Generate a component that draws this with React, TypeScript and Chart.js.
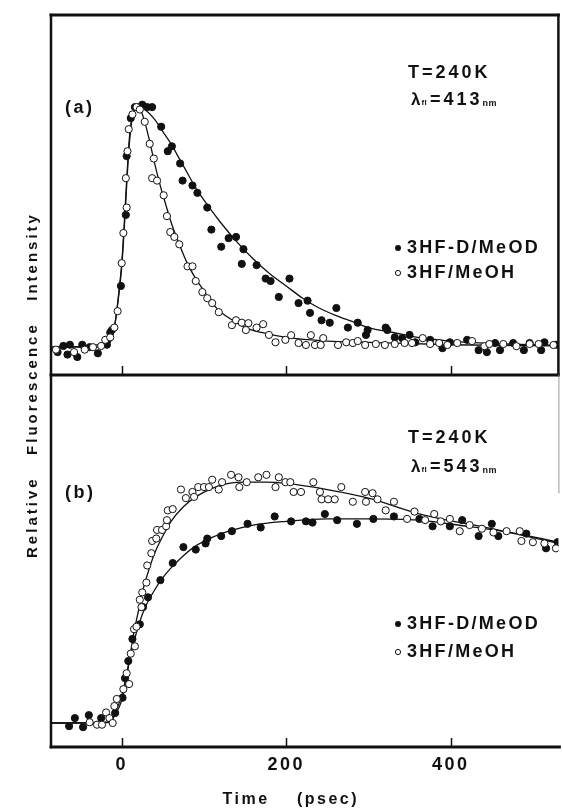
import React, { useEffect, useRef } from "react";
import { Chart, registerables } from "chart.js";

Chart.register(...registerables);

// ---------- axis ----------
const X_MIN = -86;
const X_MAX = 531;
const xTicks = [0, 200, 400];
const xTickLabels = ["0", "200", "400"];

// ---------- panel (a): T=240K, λfl = 413 nm ----------
const aDeutT = [-78, -71, -66, -63, -54, -48, -39, -29, -18, -17, -14, -12, -1, 5, 6, 11, 16, 22, 25, 31, 37, 48, 56, 61, 71, 74, 86, 92, 104, 109, 121, 130, 139, 146, 148, 164, 175, 181, 191, 204, 215, 226, 229, 243, 253, 261, 275, 287, 297, 299, 321, 323, 332, 341, 350, 357, 375, 390, 399, 420, 434, 444, 454, 460, 476, 489, 496, 510, 514, 528];
const aDeutV = [0.0, 0.025, -0.01, 0.03, -0.02, 0.03, 0.02, -0.005, 0.03, 0.05, 0.08, 0.09, 0.27, 0.56, 0.8, 0.955, 1.0, 1.0, 1.01, 1.0, 1.0, 0.92, 0.82, 0.84, 0.77, 0.7, 0.68, 0.65, 0.59, 0.5, 0.43, 0.465, 0.47, 0.36, 0.42, 0.355, 0.3, 0.29, 0.225, 0.3, 0.2, 0.21, 0.16, 0.13, 0.12, 0.18, 0.1, 0.12, 0.07, 0.09, 0.1, 0.09, 0.06, 0.057, 0.07, 0.04, 0.05, 0.016, 0.04, 0.05, 0.008, 0.0, 0.037, 0.008, 0.037, 0.008, 0.037, 0.008, 0.04, 0.03];

const aProtT = [-80, -58, -45, -35, -25, -20, -14, -9, -5, 0, 2, 5, 6, 7, 8.5, 13, 18, 22, 28, 34, 37, 39, 43, 51, 55, 59, 64, 70, 80, 86, 90, 98, 104, 110, 118, 134, 139, 146, 151, 154, 164, 172, 179, 187, 199, 206, 215, 224, 230, 235, 242, 245, 263, 273, 281, 287, 296, 309, 320, 332, 344, 353, 366, 375, 386, 396, 408, 426, 441, 447, 464, 480, 496, 507, 525];
const aProtV = [0.01, 0.0, 0.01, 0.02, 0.025, 0.05, 0.06, 0.1, 0.167, 0.363, 0.486, 0.71, 0.59, 0.82, 0.91, 0.97, 1.0, 0.99, 0.94, 0.85, 0.71, 0.79, 0.7, 0.64, 0.555, 0.49, 0.47, 0.44, 0.35, 0.35, 0.29, 0.245, 0.22, 0.2, 0.163, 0.11, 0.13, 0.12, 0.09, 0.118, 0.1, 0.114, 0.07, 0.04, 0.05, 0.069, 0.037, 0.029, 0.069, 0.029, 0.029, 0.057, 0.029, 0.04, 0.037, 0.045, 0.029, 0.033, 0.029, 0.033, 0.037, 0.037, 0.057, 0.033, 0.037, 0.029, 0.037, 0.045, 0.024, 0.033, 0.033, 0.024, 0.033, 0.033, 0.029];

const aDeutFitT = [-86, -30, -15, -8, -3, 0, 3, 6, 9, 12, 16, 22, 30, 40, 50, 60, 70, 80, 90, 100, 120, 140, 160, 180, 200, 220, 240, 260, 280, 300, 330, 360, 400, 450, 500, 531];
const aDeutFitV = [0.02, 0.02, 0.04, 0.12, 0.25, 0.35, 0.5, 0.68, 0.84, 0.94, 0.99, 1.0, 0.985, 0.95, 0.9, 0.85, 0.79, 0.73, 0.67, 0.62, 0.53, 0.45, 0.38, 0.32, 0.27, 0.22, 0.18, 0.15, 0.125, 0.1, 0.08, 0.06, 0.045, 0.035, 0.03, 0.028];

const aProtFitT = [-86, -15, -8, -3, 0, 3, 6, 9, 12, 16, 20, 24, 28, 34, 40, 46, 52, 60, 70, 80, 90, 100, 110, 120, 135, 150, 170, 200, 250, 300, 400, 531];
const aProtFitV = [0.02, 0.04, 0.12, 0.26, 0.36, 0.52, 0.7, 0.86, 0.95, 0.99, 1.0, 0.98, 0.94, 0.86, 0.77, 0.69, 0.62, 0.53, 0.44, 0.36, 0.3, 0.25, 0.2, 0.165, 0.13, 0.1, 0.08, 0.06, 0.045, 0.04, 0.03, 0.025];

// ---------- panel (b): T=240K, λfl = 543 nm ----------
const bDeutT = [-64, -57, -47, -40, -25, -8, 1, 4, 8, 13, 22, 26, 32, 47, 62, 75, 90, 102, 104, 121, 134, 153, 169, 186, 206, 224, 232, 247, 262, 286, 306, 331, 362, 378, 399, 414, 434, 450, 458, 492, 516, 530];
const bDeutV = [0.024, 0.057, 0.02, 0.069, 0.057, 0.078, 0.14, 0.22, 0.29, 0.38, 0.44, 0.51, 0.55, 0.62, 0.69, 0.755, 0.745, 0.77, 0.79, 0.8, 0.82, 0.85, 0.835, 0.88, 0.86, 0.86, 0.855, 0.89, 0.865, 0.85, 0.87, 0.88, 0.87, 0.84, 0.84, 0.865, 0.8, 0.85, 0.8, 0.81, 0.75, 0.775];

const bProtT = [-39, -30, -24, -19, -15, -11, -9, -6, 2, 6, 9, 11, 15, 16, 18, 22, 24, 25, 30, 31, 36, 37, 42, 43, 49, 54, 55, 56, 62, 72, 78, 86, 88, 93, 100, 106, 110, 118, 122, 133, 142, 143, 152, 166, 176, 187, 191, 199, 205, 209, 218, 233, 241, 243, 251, 259, 267, 281, 296, 297, 305, 311, 321, 331, 347, 356, 369, 380, 388, 399, 411, 423, 438, 452, 468, 484, 486, 500, 514, 528];
const bProtV = [0.04, 0.03, 0.03, 0.08, 0.057, 0.037, 0.106, 0.135, 0.175, 0.24, 0.196, 0.32, 0.42, 0.35, 0.43, 0.54, 0.51, 0.57, 0.61, 0.68, 0.73, 0.78, 0.79, 0.825, 0.825, 0.84, 0.865, 0.905, 0.91, 0.99, 0.955, 0.98, 0.96, 1.0, 1.0, 1.0, 1.03, 0.99, 1.02, 1.05, 1.04, 1.0, 1.02, 1.04, 1.05, 1.0, 1.04, 1.02, 1.02, 0.98, 0.98, 1.02, 0.98, 0.95, 0.95, 0.95, 1.0, 0.94, 0.98, 0.94, 0.975, 0.95, 0.905, 0.94, 0.87, 0.9, 0.865, 0.89, 0.86, 0.87, 0.82, 0.845, 0.83, 0.815, 0.82, 0.82, 0.78, 0.775, 0.77, 0.75];

const bDeutFitT = [-86, -15, -8, 0, 5, 10, 15, 20, 25, 30, 40, 50, 60, 75, 90, 110, 130, 160, 200, 250, 300, 360, 420, 480, 531];
const bDeutFitV = [0.037, 0.04, 0.07, 0.13, 0.21, 0.3, 0.37, 0.43, 0.48, 0.52, 0.58, 0.63, 0.67, 0.72, 0.76, 0.795, 0.82, 0.845, 0.86, 0.87, 0.87, 0.865, 0.84, 0.81, 0.775];

const bProtFitT = [-86, -15, -8, 0, 5, 10, 15, 20, 25, 30, 40, 50, 60, 75, 90, 110, 130, 150, 175, 200, 250, 300, 363, 450, 531];
const bProtFitV = [0.037, 0.04, 0.08, 0.15, 0.22, 0.31, 0.41, 0.49, 0.57, 0.63, 0.73, 0.8, 0.86, 0.92, 0.96, 0.995, 1.015, 1.02, 1.02, 1.015, 0.99, 0.955, 0.89, 0.83, 0.77];

// ---------- text ----------
const legendDeut = "3HF-D/MeOD";
const legendProt = "3HF/MeOH";
const tempLabel = "T=240K";
const panelA = { tag: "(a)", wave: "=413" };
const panelB = { tag: "(b)", wave: "=543" };
const yTitle = "Relative   Fluorescence   Intensity";
const xTitleA = "Time";
const xTitleB = "(psec)";

const INK = "#111";
const FONT = '"Liberation Sans", Arial, Helvetica, sans-serif';

const zip = (t: number[], v: number[]) => t.map((x, i) => ({ x, y: v[i] }));

function txt(ctx: CanvasRenderingContext2D, s: string, x: number, y: number, size: number, align: CanvasTextAlign = "left", spacing = 2.5): number {
  ctx.font = `bold ${size}px ${FONT}`;
  (ctx as any).letterSpacing = `${spacing}px`;
  ctx.textAlign = align;
  ctx.textBaseline = "middle";
  ctx.fillStyle = INK;
  ctx.fillText(s, x, y);
  return ctx.measureText(s).width;
}

function lambdaLine(ctx: CanvasRenderingContext2D, x: number, y: number, num: string) {
  let cx = x;
  cx += txt(ctx, "λ", cx, y, 17, "left", 0) + 1;
  cx += txt(ctx, "fl", cx, y + 3, 8, "left", 0.5);
  cx = x + 19;
  cx += txt(ctx, num, cx, y, 18, "left", 3);
  txt(ctx, "nm", cx, y + 4, 9, "left", 0.5);
}

function legendBlock(ctx: CanvasRenderingContext2D, x: number, y1: number, y2: number) {
  ctx.save();
  ctx.fillStyle = INK;
  ctx.beginPath();
  ctx.arc(x, y1, 3, 0, Math.PI * 2);
  ctx.fill();
  ctx.beginPath();
  ctx.arc(x, y2, 2.6, 0, Math.PI * 2);
  ctx.fillStyle = "#fff";
  ctx.fill();
  ctx.lineWidth = 1;
  ctx.strokeStyle = INK;
  ctx.stroke();
  txt(ctx, legendDeut, x + 9, y1, 18, "left", 2.3);
  txt(ctx, legendProt, x + 9, y2, 18, "left", 2.3);
  ctx.restore();
}

const framePlugin = {
  id: "frame",
  beforeDraw(chart: any) {
    (chart.ctx as any).letterSpacing = "2.5px";
  },
  afterDraw(chart: any) {
    const ctx: CanvasRenderingContext2D = chart.ctx;
    const { left, right, top, bottom } = chart.chartArea;
    const xs = chart.scales.x;
    const yA = chart.scales.yA;
    const mid = Math.round(yA.getPixelForValue(-0.0935));
    ctx.save();
    ctx.strokeStyle = INK;
    ctx.lineCap = "square";
    // frame
    ctx.lineWidth = 3;
    ctx.beginPath();
    ctx.moveTo(left, top);
    ctx.lineTo(right, top);
    ctx.stroke();
    ctx.beginPath();
    ctx.moveTo(left, mid);
    ctx.lineTo(right, mid);
    ctx.stroke();
    ctx.beginPath();
    ctx.moveTo(left, bottom);
    ctx.lineTo(right + 1, bottom);
    ctx.stroke();
    ctx.lineWidth = 2.5;
    ctx.beginPath();
    ctx.moveTo(left, top);
    ctx.lineTo(left, bottom);
    ctx.stroke();
    ctx.beginPath();
    ctx.moveTo(right, top);
    ctx.lineTo(right, mid);
    ctx.stroke();
    ctx.lineWidth = 1;
    ctx.strokeStyle = "#999";
    ctx.beginPath();
    ctx.moveTo(right + 0.5, mid);
    ctx.lineTo(right + 0.5, mid + 118);
    ctx.stroke();
    // inward ticks
    ctx.strokeStyle = INK;
    ctx.lineWidth = 1.5;
    ctx.lineCap = "butt";
    for (const v of xTicks) {
      const px = Math.round(xs.getPixelForValue(v)) + 0.5;
      ctx.beginPath();
      ctx.moveTo(px, mid);
      ctx.lineTo(px, mid - 9);
      ctx.stroke();
      ctx.beginPath();
      ctx.moveTo(px, bottom);
      ctx.lineTo(px, bottom - 9);
      ctx.stroke();
    }
    // panel texts
    txt(ctx, panelA.tag, 65, 108, 18, "left", 2.5);
    txt(ctx, tempLabel, 408, 73, 18, "left", 3);
    lambdaLine(ctx, 411, 100, panelA.wave);
    legendBlock(ctx, 398, 248, 273);

    txt(ctx, panelB.tag, 65, 493, 18, "left", 2.5);
    txt(ctx, tempLabel, 408, 438, 18, "left", 3);
    lambdaLine(ctx, 411, 467, panelB.wave);
    legendBlock(ctx, 398, 624, 652);

    // axis titles
    txt(ctx, xTitleA, 246, 800, 16, "center", 2.5);
    txt(ctx, xTitleB, 328, 800, 16, "center", 2.5);
    ctx.save();
    ctx.translate(33, 385);
    ctx.rotate(-Math.PI / 2);
    txt(ctx, yTitle, 0, 0, 15, "center", 3);
    ctx.restore();
    ctx.restore();
    (ctx as any).letterSpacing = "0px";
  },
};

const pts = (data: any[], axis: string, filled: boolean) => ({
  data,
  yAxisID: axis,
  showLine: false,
  pointRadius: 3.6,
  pointHoverRadius: 3.6,
  pointBorderWidth: 1,
  pointBackgroundColor: filled ? INK : "#fff",
  pointBorderColor: INK,
  backgroundColor: filled ? INK : "#fff",
  borderColor: INK,
});

const fit = (data: any[], axis: string) => ({
  data,
  yAxisID: axis,
  showLine: true,
  pointRadius: 0,
  borderWidth: 1.3,
  borderColor: INK,
  fill: false,
  cubicInterpolationMode: "monotone",
});

export default function App() {
  const ref = useRef<HTMLCanvasElement>(null);
  useEffect(() => {
    if (!ref.current) return;
    const chart = new Chart(ref.current, {
      type: "scatter",
      data: {
        datasets: [
          pts(zip(aProtT, aProtV), "yA", false),
          pts(zip(aDeutT, aDeutV), "yA", true),
          pts(zip(bProtT, bProtV), "yB", false),
          pts(zip(bDeutT, bDeutV), "yB", true),
          fit(zip(aDeutFitT, aDeutFitV), "yA"),
          fit(zip(aProtFitT, aProtFitV), "yA"),
          fit(zip(bDeutFitT, bDeutFitV), "yB"),
          fit(zip(bProtFitT, bProtFitV), "yB"),
        ] as any,
      },
      options: {
        responsive: false,
        animation: false,
        devicePixelRatio: 1,
        layout: { padding: { left: 51, top: 15, right: 1, bottom: 0 } },
        plugins: { legend: { display: false }, tooltip: { enabled: false } },
        scales: {
          x: {
            type: "linear",
            min: X_MIN,
            max: X_MAX,
            position: "bottom",
            grid: { display: false, drawTicks: false },
            border: { display: false },
            afterBuildTicks: (s: any) => {
              s.ticks = xTicks.map((v) => ({ value: v }));
            },
            afterFit: (s: any) => {
              s.height = 63;
            },
            ticks: {
              autoSkip: false,
              maxRotation: 0,
              padding: 7,
              color: INK,
              font: { family: FONT, size: 18, weight: "bold" },
              callback: (v: any) => {
                const i = xTicks.indexOf(Number(v));
                return i >= 0 ? xTickLabels[i] : "";
              },
            },
          },
          yA: { type: "linear", display: false, min: -1.612, max: 1.376 },
          yB: { type: "linear", display: false, min: -0.061, max: 2.927 },
        },
      } as any,
      plugins: [framePlugin],
    });
    return () => chart.destroy();
  }, []);
  return (
    <div style={{ position: "fixed", left: 0, top: 0, width: 563, height: 810, background: "#fff" }}>
      <canvas ref={ref} width={563} height={810} style={{ display: "block", width: 563, height: 810 }} />
    </div>
  );
}
